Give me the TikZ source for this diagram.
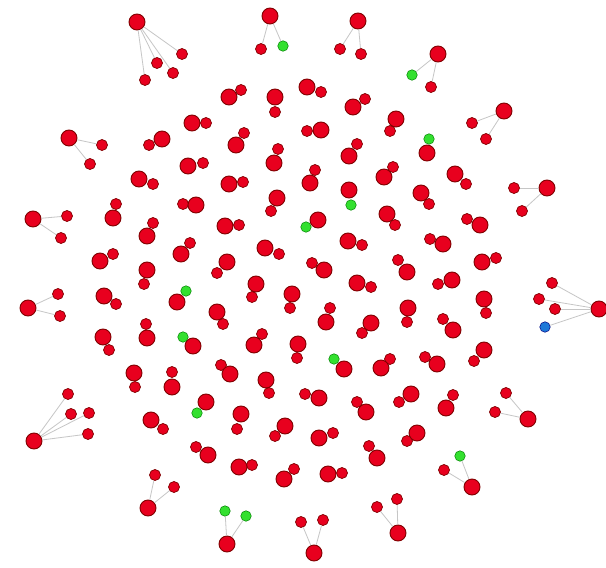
\documentclass[tikz,border=0pt]{standalone}
\begin{document}
\begin{tikzpicture}[x=1pt,y=-1pt,
  big/.style={circle,draw=red!50!black,line width=0.9pt,fill=nred,inner sep=0pt,minimum size=16pt},
  sml/.style={circle,draw=red!50!black,line width=0.7pt,fill=nred,inner sep=0pt,minimum size=11pt},
  grn/.style={circle,draw=green!50!black,line width=0.5pt,fill=ngreen,inner sep=0pt,minimum size=10.5pt},
  blu/.style={circle,draw=blue!50!black,line width=0.5pt,fill=nblue,inner sep=0pt,minimum size=10.5pt},
  edge/.style={draw=gray!45,line width=0.8pt}]
\definecolor{nred}{HTML}{E8001E}
\definecolor{ngreen}{HTML}{33E02F}
\definecolor{nblue}{HTML}{1E78D8}
\useasboundingbox (0,0) rectangle (606,568);
\fill[white] (0,0) rectangle (606,568);
% interior pairs
\foreach \bx/\by/\sx/\sy [count=\i] in {229/97/241/90, 275/97/275/112, 307/87/321/92, 353/107/365/99, 396/119/390/131, 192/123/206/123, 162/139/149/145, 236/145/244/133, 321/130/307/131, 274/163/278/149, 349/156/357/144, 188/166/203/163, 139/179/153/184, 229/184/243/182, 310/183/315/170, 384/177/393/167, 455/174/466/184, 421/193/429/204, 113/218/116/204, 196/205/183/204, 277/198/271/211, 387/214/395/225, 225/226/239/225, 147/236/153/223, 480/225/467/219, 443/244/430/239, 181/254/190/243, 265/248/279/254, 348/241/362/245, 100/261/113/254, 227/262/217/273, 324/270/312/263, 407/272/398/260, 482/262/496/258, 147/270/144/284, 256/284/252/297, 357/283/371/287, 452/280/438/284, 292/294/290/308, 104/296/116/304, 484/299/486/313, 408/308/407/322, 217/312/223/324, 326/322/330/308, 371/323/362/333, 453/330/443/319, 103/337/109/350, 147/338/146/324, 254/345/262/334, 298/344/297/358, 484/350/474/361, 437/364/425/357, 381/368/390/359, 230/374/221/365, 134/373/135/387, 172/387/172/372, 266/380/269/393, 319/398/305/394, 366/412/357/402, 411/394/399/402, 446/408/453/395, 151/420/163/429, 241/414/237/429, 285/426/275/436, 319/438/333/433, 417/433/407/441, 208/455/196/447, 377/458/369/446, 239/467/252/465, 284/479/294/469, 328/474/342/473}
{
  \node[sml] (ps\i) at (\sx,\sy) {};
  \node[big] (pb\i) at (\bx,\by) {};
}
\foreach \bx/\by/\sx/\sy [count=\i] in {427/153/429/139, 349/190/351/205, 318/220/306/227, 177/302/186/291, 193/346/183/337, 344/369/334/359, 206/402/197/413}
{
  \node[grn] (gs\i) at (\sx,\sy) {};
  \node[big] (gb\i) at (\bx,\by) {};
}
% peripheral stars
\node[big] (h1) at (137,22) {};
\node[sml] (h1a) at (182,54) {};
\node[sml] (h1b) at (157,63) {};
\node[sml] (h1c) at (173,73) {};
\node[sml] (h1d) at (145,80) {};
\node[big] (h2) at (69,138) {};
\node[sml] (h2a) at (102,145) {};
\node[sml] (h2b) at (90,164) {};
\node[big] (h3) at (270,16) {};
\node[sml] (h3a) at (261,49) {};
\node[grn] (h3b) at (283,46) {};
\node[big] (h4) at (358,21) {};
\node[sml] (h4a) at (340,49) {};
\node[sml] (h4b) at (361,54) {};
\node[big] (h5) at (438,54) {};
\node[grn] (h5a) at (412,75) {};
\node[sml] (h5b) at (431,87) {};
\node[big] (h6) at (504,111) {};
\node[sml] (h6a) at (472,123) {};
\node[sml] (h6b) at (486,139) {};
\node[big] (h7) at (547,188) {};
\node[sml] (h7a) at (514,188) {};
\node[sml] (h7b) at (522,211) {};
\node[big] (h8) at (33,219) {};
\node[sml] (h8a) at (67,216) {};
\node[sml] (h8b) at (61,238) {};
\node[big] (h9) at (28,308) {};
\node[sml] (h9a) at (58,294) {};
\node[sml] (h9b) at (60,316) {};
\node[big] (h10) at (599,309) {};
\node[sml] (h10a) at (552,283) {};
\node[sml] (h10b) at (539,299) {};
\node[sml] (h10c) at (555,309) {};
\node[blu] (h10d) at (545,327) {};
\node[big] (h11) at (34,441) {};
\node[sml] (h11a) at (68,394) {};
\node[sml] (h11b) at (71,414) {};
\node[sml] (h11c) at (89,413) {};
\node[sml] (h11d) at (88,434) {};
\node[big] (h12) at (148,508) {};
\node[sml] (h12a) at (155,475) {};
\node[sml] (h12b) at (174,487) {};
\node[big] (h13) at (227,544) {};
\node[grn] (h13a) at (225,511) {};
\node[grn] (h13b) at (246,516) {};
\node[big] (h14) at (314,553) {};
\node[sml] (h14a) at (301,522) {};
\node[sml] (h14b) at (323,520) {};
\node[big] (h15) at (398,533) {};
\node[sml] (h15a) at (377,507) {};
\node[sml] (h15b) at (397,499) {};
\node[big] (h16) at (472,487) {};
\node[grn] (h16a) at (460,456) {};
\node[sml] (h16b) at (444,470) {};
\node[big] (h17) at (528,419) {};
\node[sml] (h17a) at (495,412) {};
\node[sml] (h17b) at (506,393) {};
\foreach \h/\l in {h1/h1a,h1/h1b,h1/h1c,h1/h1d,h2/h2a,h2/h2b,h3/h3a,h3/h3b,h4/h4a,h4/h4b,h5/h5a,h5/h5b,h6/h6a,h6/h6b,h7/h7a,h7/h7b,h8/h8a,h8/h8b,h9/h9a,h9/h9b,h10/h10a,h10/h10b,h10/h10c,h10/h10d,h11/h11a,h11/h11b,h11/h11c,h11/h11d,h12/h12a,h12/h12b,h13/h13a,h13/h13b,h14/h14a,h14/h14b,h15/h15a,h15/h15b,h16/h16a,h16/h16b,h17/h17a,h17/h17b}
  \draw[edge] (\h) -- (\l);
\end{tikzpicture}
\end{document}
